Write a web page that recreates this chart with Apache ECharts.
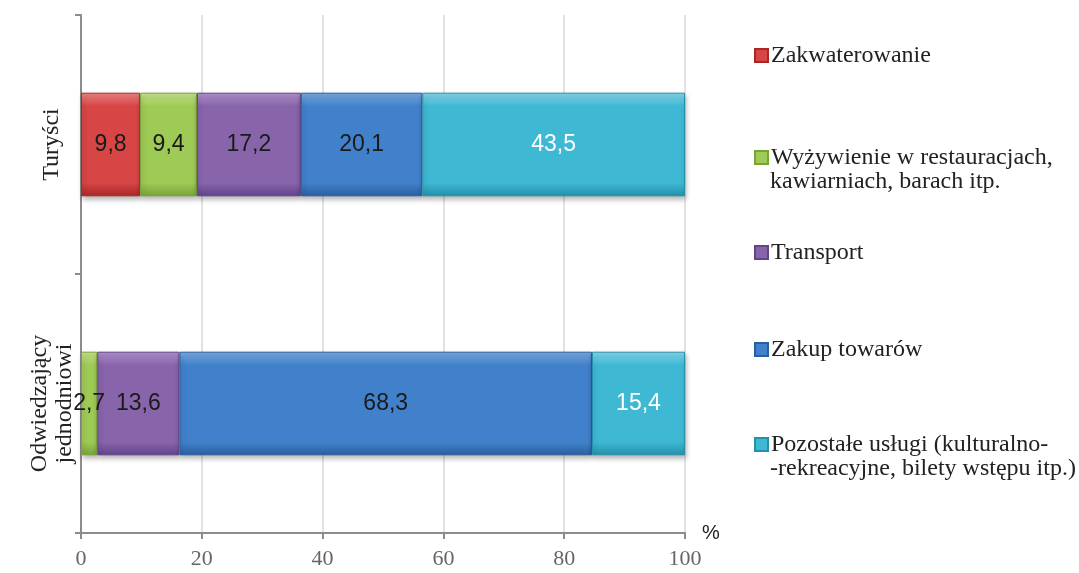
<!DOCTYPE html>
<html>
<head>
<meta charset="utf-8">
<script src="https://cdn.jsdelivr.net/npm/echarts@6/dist/echarts.min.js"></script>
<style>
  html, body { margin: 0; padding: 0; background: #ffffff; }
  #chart { width: 1079px; height: 573px; }
</style>
</head>
<body>
<div id="chart"></div>
<script>
// Struktura wydatków (%) według kategorii odwiedzających
const categories = ['Turyści', 'Odwiedzający\njednodniowi'];
const seriesNames = [
  'Zakwaterowanie',
  'Wyżywienie w restauracjach,',
  'Transport',
  'Zakup towarów',
  'Pozostałe usługi (kulturalno-'
];
const seriesSecondLines = [null, 'kawiarniach, barach itp.', null, null, '-rekreacyjne, bilety wstępu itp.)'];
const zakwaterowanie = [9.8, null];
const wyzywienie = [9.4, 2.7];
const transport = [17.2, 13.6];
const zakupTowarow = [20.1, 68.3];
const pozostaleUslugi = [43.5, 15.4];
const xTicks = [0, 20, 40, 60, 80, 100];

const values = [zakwaterowanie, wyzywienie, transport, zakupTowarow, pozostaleUslugi];
// [light top, face, dark bottom]
const palette = [
  ['#ef8585', '#d74545', '#a82828'],
  ['#c8e38c', '#9eca56', '#78a338'],
  ['#b193ce', '#8864ab', '#62448a'],
  ['#7aaae0', '#4181cb', '#2a5f9f'],
  ['#86d6e8', '#3fb8d4', '#2590aa']
];
const labelColors = ['#1a1a1a', '#1a1a1a', '#1a1a1a', '#1a1a1a', '#ffffff'];
const legendCenters = [53, 155, 250, 347, 442];

function grad(c) {
  return new echarts.graphic.LinearGradient(0, 0, 0, 1, [
    { offset: 0, color: c[0] },
    { offset: 0.13, color: c[1] },
    { offset: 0.87, color: c[1] },
    { offset: 1, color: c[2] }
  ]);
}

const series = seriesNames.map((name, i) => ({
  name: name,
  type: 'bar',
  stack: 'total',
  barWidth: '40%',
  data: values[i],
  itemStyle: {
    color: grad(palette[i]),
    borderColor: palette[i][2],
    borderWidth: 1,
    shadowBlur: 5,
    shadowOffsetX: 1,
    shadowOffsetY: 3,
    shadowColor: 'rgba(0,0,0,0.28)'
  },
  label: {
    show: true,
    position: 'inside',
    fontFamily: 'Liberation Sans, Arial, sans-serif',
    fontSize: 23,
    color: labelColors[i],
    formatter: p => (p.value == null ? '' : String(p.value).replace('.', ','))
  }
}));

const legends = seriesNames.map((name, i) => ({
  data: [name],
  left: 749,
  top: legendCenters[i] - 16,
  orient: 'vertical',
  itemWidth: 13,
  itemHeight: 13,
  itemGap: 6,
  icon: 'rect',
  selectedMode: false,
  textStyle: {
    fontFamily: 'Liberation Serif, Times New Roman, serif',
    fontSize: 24,
    color: '#222222',
    lineHeight: 27,
    padding: [0, 0, 0, -2]
  }
}));

const secondLines = [];
seriesSecondLines.forEach((t, i) => {
  if (t) {
    secondLines.push({
      type: 'text',
      left: 770,
      top: legendCenters[i] + 15,
      style: {
        text: t,
        font: '24px "Liberation Serif", "Times New Roman", serif',
        fill: '#222222'
      }
    });
  }
});

const chart = echarts.init(document.getElementById('chart'), null, { renderer: 'canvas' });
chart.setOption({
  animation: false,
  backgroundColor: '#ffffff',
  grid: { left: 81, right: 394, top: 15, bottom: 40, containLabel: false },
  legend: legends,
  graphic: secondLines,
  xAxis: {
    type: 'value',
    min: xTicks[0],
    max: xTicks[xTicks.length - 1],
    interval: 20,
    name: '%',
    nameLocation: 'end',
    nameGap: 17,
    nameTextStyle: {
      fontFamily: 'Liberation Sans, Arial, sans-serif',
      fontSize: 20,
      color: '#222222',
      verticalAlign: 'middle',
      padding: [0, 0, 6, 0]
    },
    axisLine: { show: true, lineStyle: { color: '#8c8c8c', width: 2 } },
    axisTick: { show: true, length: 6, lineStyle: { color: '#8c8c8c', width: 2 } },
    axisLabel: {
      margin: 15,
      fontFamily: 'Liberation Serif, Times New Roman, serif',
      fontSize: 22,
      color: '#666666'
    },
    splitLine: { show: true, lineStyle: { color: '#d9d9d9', width: 1.5 } }
  },
  yAxis: {
    type: 'category',
    data: categories,
    inverse: true,
    axisLine: { show: true, lineStyle: { color: '#8c8c8c', width: 2 } },
    axisTick: { show: true, length: 6, lineStyle: { color: '#8c8c8c', width: 2 } },
    axisLabel: {
      rotate: 90,
      margin: 29,
      align: 'center',
      verticalAlign: 'middle',
      fontFamily: 'Liberation Serif, Times New Roman, serif',
      fontSize: 24,
      lineHeight: 25,
      color: '#222222'
    }
  },
  series: series
});
</script>
</body>
</html>
